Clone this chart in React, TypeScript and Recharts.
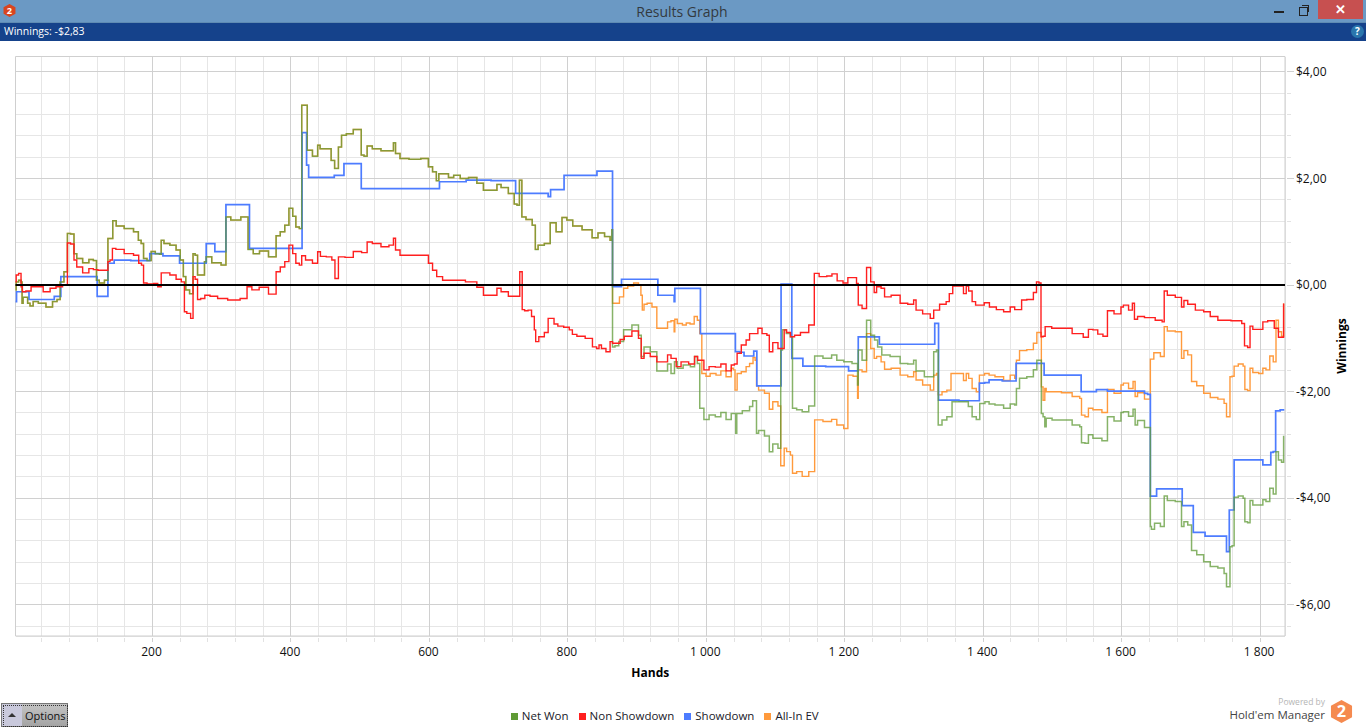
import { LineChart, Line, CartesianGrid, XAxis, YAxis, Legend, ReferenceLine, ReferenceArea } from 'recharts'

type Pt = [number, number]

// until hand 864 Net Won and All-In EV are the same line
const sharedRun: Pt[] = [
  [2,-.09],[4,.06],[9,.09],[11,.06],[12,-.34],[14,-.23],[18,-.23],[21,-.34],[25,-.39],[30,-.31],[40,-.34],[52,-.41],[59,-.31],[65,-.27],[68,.06],[76,.25],[78,.97],[85,.96],[88,.59],[93,.5],
  [105,.42],[111,.48],[118,.46],[120,.09],[126,.04],[135,.09],[136,.875],[141,.875],[144,1.21],[151,1.11],[167,1.06],[178,1.0],[181,.84],[186,.78],[188,.5],[196,.46],[200,.63],[208,.59],[212,.58],[213,.84],
  [220,.78],[230,.75],[238,.66],[242,.47],[247,.16],[249,-.09],[258,-.16],[259,.59],[264,.56],[266,.19],[273,.19],[277,.44],[278,.53],[293,.42],[305,.375],[307,1.28],[319,1.22],[336,1.28],[340,.67],[351,.59],
  [358,.64],[377,.53],[380,.925],[389,1.0],[393,1.125],[401,1.44],[404,1.29],[410,1.09],[414,1.06],[417,3.375],[422,3.375],[425,2.53],[437,2.42],[440,2.625],[444,2.56],[456,2.56],[460,2.34],[466,2.19],[471,2.59],[475,2.81],
  [485,2.84],[495,2.92],[501,2.92],[502,2.44],[509,2.42],[511,2.61],[524,2.56],[536,2.52],[547,2.52],[549,2.67],[553,2.47],[562,2.375],[579,2.36],[596,2.375],[601,2.22],[608,2.125],[612,1.96],[615,2.09],[625,2.09],[630,2.02],
  [640,2.06],[649,2.0],[664,2.02],[673,1.91],[683,1.78],[695,1.78],[700,1.89],[707,1.83],[721,1.72],[724,1.52],[729,1.5],[731,1.97],[733,1.97],[734,1.28],[745,1.23],[752,1.125],[754,.67],[760,.75],[772,.78],[777,1.17],
  [789,1.0],[794,1.27],[803,1.22],[811,1.11],[830,1.04],[840,.89],[847,.98],[859,.91],[863,.84],[864,1.04],
]

const netWonTail: Pt[] = [
  [865,-1.16],[871,-1.14],[876,-1.06],[885,-.84],[900,-.75],[904,-.94],[908,-1.34],[912,-1.16],[926,-1.25],[931,-1.61],[943,-1.61],[945,-1.48],[953,-1.66],[955,-1.44],[961,-1.56],[972,-1.5],[982,-1.53],[984,-1.34],[990,-1.47],[991,-2.31],
  [1002,-2.52],[1006,-2.44],[1020,-2.47],[1022,-2.39],[1035,-2.52],[1037,-2.41],[1042,-2.41],[1043,-2.78],[1045,-2.41],[1059,-2.36],[1066,-2.28],[1068,-2.17],[1072,-2.17],[1073,-2.78],[1078,-2.73],[1090,-2.83],[1092,-3.125],[1100,-2.98],[1107,-3.06],[1108,-1.22],
  [1112,-.84],[1119,-.91],[1124,-.97],[1125,-2.31],[1136,-2.34],[1141,-2.375],[1155,-2.27],[1158,-1.33],[1179,-1.375],[1183,-1.31],[1194,-1.41],[1203,-1.44],[1218,-1.47],[1219,-1.875],[1220,-1.22],[1230,-1.41],[1233,-.66],[1242,-.94],[1244,-1.03],[1251,-1.16],
  [1256,-1.31],[1275,-1.34],[1285,-1.47],[1297,-1.48],[1302,-1.41],[1304,-1.61],[1326,-1.72],[1331,-1.25],[1334,-1.22],[1336,-2.625],[1345,-2.53],[1350,-2.47],[1360,-2.19],[1369,-2.19],[1376,-2.19],[1381,-2.28],[1387,-2.47],[1393,-2.52],[1397,-2.22],[1408,-2.19],
  [1409,-2.23],[1425,-2.25],[1434,-2.31],[1444,-2.23],[1447,-2.25],[1449,-1.94],[1456,-1.75],[1470,-1.72],[1475,-1.59],[1480,-1.41],[1483,-1.41],[1485,-2.41],[1488,-2.47],[1490,-2.66],[1492,-2.5],[1507,-2.53],[1519,-2.53],[1538,-2.625],[1541,-2.66],[1543,-2.96],
  [1551,-2.97],[1553,-2.81],[1564,-2.875],[1579,-2.92],[1580,-2.47],[1598,-2.55],[1600,-2.39],[1605,-2.375],[1615,-2.46],[1618,-2.33],[1621,-2.625],[1625,-2.54],[1641,-2.67],[1642,-4.53],[1644,-4.58],[1651,-4.47],[1661,-4.53],[1662,-3.96],[1670,-4.04],[1685,-4.06],
  [1688,-4.53],[1692,-4.44],[1699,-4.5],[1703,-4.98],[1714,-5.06],[1723,-5.19],[1733,-5.28],[1745,-5.31],[1751,-5.41],[1752,-5.66],[1756,-5.66],[1757,-4.91],[1762,-4.89],[1763,-3.98],[1774,-3.96],[1777,-4.0],[1779,-4.44],[1785,-4.46],[1786,-4.04],[1793,-4.125],
  [1803,-4.125],[1805,-4.03],[1812,-4.06],[1816,-3.81],[1822,-3.92],[1824,-3.125],[1829,-3.28],[1833,-3.325],[1835,-2.84],
]

const allInTail: Pt[] = [
  [865,-.34],[871,-.34],[878,-.22],[883,-.06],[890,-.02],[900,.04],[904,0],[907,-.19],[908,-.47],[912,-.36],[917,-.34],[926,-.41],[931,-.81],[943,-.81],[945,-.69],[953,-.67],[954,-.875],[955,-.64],[961,-.72],[970,-.75],
  [972,-.71],[981,-.73],[984,-.59],[990,-.66],[991,-.91],[996,-1.66],[1003,-1.71],[1008,-1.66],[1020,-1.69],[1022,-1.61],[1035,-1.72],[1037,-1.56],[1041,-1.59],[1042,-1.97],[1044,-1.97],[1045,-1.66],[1056,-1.625],[1059,-1.53],[1066,-1.47],[1069,-1.36],
  [1072,-1.41],[1073,-1.89],[1078,-1.97],[1090,-2.03],[1092,-2.33],[1100,-2.19],[1107,-2.27],[1108,-3.39],[1112,-3.39],[1113,-3.06],[1119,-3.125],[1124,-3.19],[1125,-3.53],[1136,-3.5],[1141,-3.59],[1155,-3.5],[1158,-2.53],[1179,-2.56],[1183,-2.52],[1194,-2.625],
  [1203,-2.69],[1206,-1.69],[1218,-1.71],[1219,-2.125],[1220,-1.59],[1230,-1.625],[1233,-.91],[1242,-1.19],[1243,-1.375],[1249,-1.34],[1256,-1.44],[1259,-1.58],[1275,-1.56],[1285,-1.69],[1297,-1.72],[1302,-1.625],[1304,-1.78],[1321,-1.875],[1326,-1.97],[1331,-1.69],
  [1334,-1.66],[1336,-2.06],[1345,-2.0],[1350,-1.97],[1357,-1.66],[1369,-1.66],[1374,-1.79],[1377,-1.66],[1381,-1.75],[1387,-1.94],[1393,-2.0],[1396,-1.69],[1408,-1.66],[1409,-1.69],[1425,-1.72],[1434,-1.79],[1444,-1.69],[1447,-1.75],[1449,-1.41],[1456,-1.23],
  [1470,-1.21],[1475,-1.09],[1480,-.89],[1483,-.89],[1485,-1.91],[1488,-2.16],[1490,-1.94],[1492,-2.0],[1507,-2.0],[1519,-2.02],[1538,-2.09],[1541,-2.125],[1543,-2.44],[1551,-2.47],[1553,-2.31],[1564,-2.34],[1579,-2.39],[1580,-1.96],[1598,-2.03],[1600,-1.875],
  [1605,-1.84],[1615,-1.94],[1618,-1.81],[1621,-2.09],[1625,-2.02],[1641,-2.14],[1642,-1.39],[1651,-1.27],[1661,-1.34],[1662,-.78],[1670,-.86],[1685,-.875],[1688,-1.375],[1692,-1.23],[1699,-1.31],[1703,-1.81],[1714,-1.89],[1723,-2.03],[1733,-2.11],[1745,-2.14],
  [1751,-2.22],[1752,-2.47],[1756,-2.47],[1757,-1.72],[1762,-1.71],[1763,-1.52],[1774,-1.48],[1777,-1.52],[1779,-1.96],[1785,-1.98],[1786,-1.56],[1793,-1.64],[1803,-1.66],[1805,-1.56],[1812,-1.59],[1816,-1.33],[1822,-1.44],[1824,-.66],[1829,-.875],[1833,-.96],
  [1835,-.36],
]

const nonShowdownRows: Pt[] = [
  [2,.06],[4,.19],[9,.22],[11,-.03],[13,-.125],[21,-.11],[28,-.03],[37,-.03],[47,-.125],[57,-.06],[64,-.03],[76,0],[78,.79],[85,.77],[88,.47],[93,.34],[105,.23],[111,.31],[118,.29],[124,.28],
  [135,.28],[136,.44],[141,.47],[143,.69],[151,.67],[167,.59],[178,.56],[182,.41],[186,.375],[188,.04],[196,.02],[207,.03],[208,-.03],[212,-.03],[213,.23],[220,.23],[230,.19],[238,.11],[245,.06],[247,-.5],
  [252,-.53],[258,-.625],[259,.16],[264,.11],[266,-.27],[273,-.25],[278,-.19],[288,-.21],[300,-.25],[317,-.28],[336,-.25],[337,-.03],[350,-.09],[358,-.04],[377,-.17],[380,.25],[389,.34],[393,.44],[401,.75],[404,.59],
  [410,.41],[414,.375],[417,.55],[425,.47],[437,.41],[440,.625],[445,.54],[457,.53],[461,.47],[466,.125],[471,.53],[485,.52],[495,.63],[509,.61],[511,.81],[524,.78],[536,.72],[547,.75],[549,.88],[553,.66],
  [562,.56],[579,.56],[596,.56],[601,.41],[608,.28],[613,.16],[625,.09],[640,.09],[664,.06],[673,-.04],[683,-.19],[695,-.19],[700,-.06],[707,-.125],[721,-.21],[730,-.21],[731,.25],[733,.25],[735,-.46],[740,-.48],
  [745,-.47],[750,-.59],[753,-.84],[754,-1.06],[762,-.97],[770,-.89],[773,-.625],[778,-.625],[782,-.73],[789,-.77],[799,-.79],[805,-.84],[808,-.925],[818,-.96],[832,-1.0],[839,-1.16],[844,-1.19],[846,-1.125],[851,-1.19],[859,-1.25],
  [863,-1.06],[866,-1.09],[873,-1.09],[878,-1.02],[885,-.96],[900,-.86],[904,-1.0],[908,-1.375],[912,-1.28],[926,-1.34],[931,-1.44],[943,-1.44],[945,-1.31],[953,-1.375],[960,-1.53],[967,-1.44],[982,-1.48],[984,-1.34],[991,-1.41],[1002,-1.59],
  [1006,-1.53],[1020,-1.54],[1022,-1.48],[1035,-1.61],[1037,-1.5],[1044,-1.48],[1045,-1.28],[1056,-1.125],[1059,-1.03],[1066,-.91],[1073,-.91],[1076,-.81],[1085,-.91],[1090,-.94],[1092,-1.25],[1100,-1.08],[1107,-1.19],[1112,-1.19],[1113,-.84],[1119,-.89],
  [1124,-.97],[1131,-.94],[1141,-.89],[1155,-.75],[1157,.22],[1169,.16],[1179,.17],[1184,.21],[1194,.08],[1201,.04],[1208,.14],[1215,.14],[1219,.03],[1220,-.375],[1230,-.44],[1233,.33],[1242,.06],[1243,-.14],[1249,-.03],[1256,-.06],
  [1259,-.22],[1275,-.19],[1285,-.34],[1297,-.36],[1302,-.28],[1304,-.47],[1321,-.54],[1326,-.625],[1331,-.47],[1343,-.36],[1350,-.31],[1352,-.16],[1360,-.02],[1369,-.02],[1374,-.16],[1377,-.02],[1381,-.11],[1387,-.31],[1391,-.375],[1398,-.375],
  [1405,-.33],[1413,-.41],[1425,-.46],[1434,-.5],[1444,-.41],[1447,-.46],[1455,-.46],[1456,-.28],[1470,-.27],[1475,-.14],[1479,.06],[1482,.04],[1485,-.97],[1488,-.96],[1491,-.78],[1507,-.81],[1519,-.81],[1538,-.91],[1551,-.98],[1553,-.83],
  [1564,-.84],[1567,-.92],[1579,-.96],[1580,-.48],[1598,-.54],[1600,-.41],[1605,-.375],[1615,-.47],[1616,-.34],[1621,-.64],[1625,-.59],[1641,-.61],[1656,-.66],[1661,-.69],[1662,-.11],[1670,-.19],[1685,-.23],[1688,-.41],[1692,-.29],[1699,-.36],
  [1714,-.47],[1723,-.5],[1733,-.59],[1745,-.66],[1771,-.67],[1776,-.72],[1779,-1.14],[1785,-1.17],[1786,-.77],[1793,-.83],[1803,-.83],[1805,-.69],[1817,-.67],[1824,-.81],[1829,-.98],[1833,-.98],[1835,-.36],
]

const showdownRows: Pt[] = [
  [2,-.31],[5,-.125],[21,-.125],[22,-.27],[57,-.27],[59,-.21],[66,-.21],[69,.16],[119,.16],[121,-.21],[135,-.21],[136,.41],[143,.41],[146,.47],[191,.46],[201,.59],[214,.59],[216,.55],[237,.55],[241,.41],
  [276,.41],[279,.78],[288,.78],[292,.63],[305,.63],[307,1.51],[339,1.51],[341,.69],[414,.69],[418,2.86],[422,2.86],[423,2.25],[428,2.02],[461,2.02],[464,2.06],[476,2.06],[477,2.28],[501,2.28],[502,1.81],[614,1.81],
  [615,1.94],[652,1.94],[654,1.97],[724,1.96],[725,1.72],[770,1.72],[773,1.66],[777,1.79],[794,1.79],[795,2.06],[841,2.06],[843,2.14],[864,2.14],[865,-.03],[877,-.03],[878,.11],[929,.11],[931,-.19],[953,-.19],[954,-.31],
  [955,-.06],[990,-.06],[993,-.91],[1041,-.91],[1043,-1.25],[1054,-1.26],[1055,-1.33],[1067,-1.33],[1070,-1.24],[1072,-1.24],[1074,-1.89],[1107,-1.89],[1109,.02],[1122,.02],[1125,-1.375],[1138,-1.375],[1141,-1.52],[1204,-1.53],[1207,-1.61],[1219,-1.61],
  [1220,-.97],[1249,-.97],[1251,-1.11],[1329,-1.11],[1331,-.72],[1334,-.72],[1337,-2.16],[1393,-2.17],[1396,-1.84],[1408,-1.83],[1409,-1.78],[1446,-1.8],[1449,-1.47],[1487,-1.47],[1489,-1.69],[1540,-1.69],[1543,-2.0],[1563,-2.0],[1564,-1.96],[1579,-1.96],
  [1580,-1.99],[1632,-1.99],[1634,-2.03],[1641,-2.05],[1642,-3.96],[1650,-3.96],[1651,-3.825],[1687,-3.825],[1688,-4.14],[1703,-4.14],[1704,-4.64],[1720,-4.64],[1721,-4.71],[1751,-4.71],[1752,-5.0],[1755,-5.0],[1756,-4.22],[1762,-4.22],[1763,-3.28],[1803,-3.28],
  [1805,-3.375],[1815,-3.375],[1816,-3.14],[1822,-3.125],[1823,-2.36],[1835,-2.34],
]

const netWonRows: Pt[] = [...sharedRun, ...netWonTail]
const allInRows: Pt[] = [...sharedRun, ...allInTail]

const handMajor = [200, 400, 600, 800, 1000, 1200, 1400, 1600, 1800]
const handTicks = [40, 80, 120, 160, 200, 240, 280, 320, 360, 400, 440, 480, 520, 560, 600, 640, 680, 720, 760, 800, 840, 880, 920, 960, 1000, 1040, 1080, 1120, 1160, 1200, 1240, 1280, 1320, 1360, 1400, 1440, 1480, 1520, 1560, 1600, 1640, 1680, 1720, 1760, 1800]
const moneyMajor = [4, 2, 0, -2, -4, -6]
const moneyTicks = [4, 3.6, 3.2, 2.8, 2.4, 2, 1.6, 1.2, 0.8, 0.4, 0, -0.4, -0.8, -1.2, -1.6, -2, -2.4, -2.8, -3.2, -3.6, -4, -4.4, -4.8, -5.2, -5.6, -6, -6.4]
const legendOrder = ['Net Won', 'Non Showdown', 'Showdown', 'All-In EV']

const handDomain = [2, 1836]
const moneyDomain = [-6.585, 4.29]

const FONT = '"Open Sans", "Noto Sans", sans-serif'

const toRows = (pts: Pt[]) => pts.map(([hand, value]) => ({ hand, value }))
const formatHand = (v: number) => (v >= 1000 ? `${Math.floor(v / 1000)} ${String(v % 1000).padStart(3, '0')}` : String(v))
const formatMoney = (v: number) => `${v < 0 ? '-' : ''}$${Math.abs(v).toFixed(2).replace('.', ',')}`

function HandTick({ x, y, payload }: any) {
  const major = handMajor.includes(payload.value)
  return (
    <g>
      <line x1={x} x2={x} y1={y} y2={y + 4} stroke={major ? '#d0d0d0' : '#e2e2e2'} shapeRendering="crispEdges" />
      {major && <text x={x - 1} y={y + 18} textAnchor="middle" fontSize={12} fontFamily={FONT} fill="#111">{formatHand(payload.value)}</text>}
    </g>
  )
}

function MoneyTick({ x, y, payload }: any) {
  const major = moneyMajor.includes(payload.value)
  return (
    <g>
      <line x1={x} x2={x + (major ? 7 : 4)} y1={y} y2={y} stroke={major ? '#d0d0d0' : '#e2e2e2'} shapeRendering="crispEdges" />
      {major && <text x={x + 9} y={y + 4} textAnchor="start" fontSize={12} fontFamily={FONT} fill="#111">{formatMoney(payload.value)}</text>}
    </g>
  )
}

function WinningsLabel({ viewBox }: any) {
  const cx = viewBox.x + 56
  const cy = viewBox.y + 289.5
  return (
    <text x={cx} y={cy} transform={`rotate(-90 ${cx} ${cy})`} textAnchor="middle" dominantBaseline="central" fontSize={12} fontWeight={700} fontFamily={FONT} fill="#000">Winnings</text>
  )
}

function Hexagon({ x, y, size, color }: { x: number; y: number; size: number; color: string }) {
  return (
    <svg style={{ position: 'absolute', left: x, top: y }} width={size} height={size} viewBox="0 0 24 24">
      <polygon points="12,0 23,6 23,18 12,24 1,18 1,6" fill={color} />
      <text x="12" y="18" textAnchor="middle" fontSize="17" fontWeight="700" fontFamily={FONT} fill="#fff">2</text>
    </svg>
  )
}

function WindowChrome() {
  return (
    <>
      <div style={{ position: 'absolute', left: 0, top: 0, width: 1366, height: 23, background: '#6b99c4', borderBottom: '1px solid #5f8bb3', boxSizing: 'border-box' }} />
      <div style={{ position: 'absolute', left: 0, top: 2, width: 1364, textAlign: 'center', fontSize: 14, color: '#33393f', fontFamily: FONT }}>Results Graph</div>
      <Hexagon x={3} y={4} size={13} color="#d9451f" />
      <div style={{ position: 'absolute', left: 1274, top: 11, width: 10, height: 2, background: '#222' }} />
      <div style={{ position: 'absolute', left: 1299, top: 7, width: 7, height: 7, border: '1px solid #222' }} />
      <div style={{ position: 'absolute', left: 1302, top: 5, width: 6, height: 6, borderTop: '1px solid #222', borderRight: '1px solid #222' }} />
      <div style={{ position: 'absolute', left: 1318, top: 0, width: 45, height: 19, background: '#c75050', color: '#fff', textAlign: 'center', fontSize: 13, lineHeight: '19px', fontWeight: 700, fontFamily: FONT }}>✕</div>
      <div style={{ position: 'absolute', left: 0, top: 23, width: 1366, height: 18, background: '#15428b' }} />
      <div style={{ position: 'absolute', left: 4, top: 24, fontSize: 10.5, color: '#fff', fontFamily: FONT }}>Winnings: -$2,83</div>
      <div style={{ position: 'absolute', left: 1351, top: 25, width: 13, height: 13, borderRadius: 7, background: '#2a76ad', color: '#fff', textAlign: 'center', fontSize: 10, lineHeight: '13px', fontWeight: 700, fontFamily: FONT }}>?</div>
      <div style={{ position: 'absolute', left: 1, top: 703, width: 67, height: 24, boxSizing: 'border-box', border: '1px solid #777', background: 'linear-gradient(#c4c4c4, #a4a4a4)' }}>
        <div style={{ position: 'absolute', left: 0, top: 0, width: 20, height: 22, background: '#c9c9dc' }} />
        <div style={{ position: 'absolute', left: 1, top: 1, width: 63, height: 20, border: '1px dotted #333' }} />
        <div style={{ position: 'absolute', left: 6, top: 9, width: 0, height: 0, borderLeft: '4px solid transparent', borderRight: '4px solid transparent', borderBottom: '4px solid #333' }} />
        <div style={{ position: 'absolute', left: 23, top: 4, fontSize: 11, color: '#111', fontFamily: FONT }}>Options</div>
      </div>
      <div style={{ position: 'absolute', right: 41, top: 697, fontSize: 8.5, lineHeight: '10px', color: '#b5b5b5', fontFamily: FONT }}>Powered by</div>
      <div style={{ position: 'absolute', right: 41, top: 708, fontSize: 11.5, lineHeight: '14px', color: '#444', fontFamily: FONT }}>Hold'em Manager</div>
      <Hexagon x={1330} y={700} size={23} color="#f58a4f" />
    </>
  )
}

export default function App() {
  return (
    <div style={{ position: 'fixed', left: 0, top: 0, width: 1366, height: 728, background: '#fff', overflow: 'hidden' }}>
      <div style={{ position: 'absolute', left: 0, top: 0 }}>
        <LineChart width={1366} height={728} margin={{ top: 56.5, right: 0, bottom: 0, left: 15.5 }}>
          <CartesianGrid stroke="#e6e6e6" shapeRendering="crispEdges" />
          <CartesianGrid stroke="#d0d0d0" shapeRendering="crispEdges" horizontalValues={moneyMajor} verticalValues={handMajor} />
          <ReferenceArea x1={handDomain[0]} x2={handDomain[1]} y1={moneyDomain[0]} y2={moneyDomain[1]} fill="none" stroke="#cfcfcf" />
          <XAxis
            dataKey="hand"
            type="number"
            domain={handDomain}
            ticks={handTicks}
            interval={0}
            height={68}
            axisLine={false}
            tickLine={false}
            tickSize={0}
            tick={HandTick}
            label={{ value: 'Hands', position: 'insideTop', offset: 32, fontSize: 12, fontWeight: 700, fontFamily: FONT, fill: '#000' }}
          />
          <YAxis
            type="number"
            orientation="right"
            domain={moneyDomain}
            ticks={moneyTicks}
            interval={0}
            width={81}
            axisLine={false}
            tickLine={false}
            tickSize={0}
            tick={MoneyTick}
            label={<WinningsLabel />}
          />
          <Legend
            verticalAlign="bottom"
            height={24}
            iconType="square"
            iconSize={7}
            wrapperStyle={{ left: -5.5, bottom: -2 }}
            itemSorter={(item: any) => legendOrder.indexOf(item.value)}
            formatter={(value: string) => <span style={{ color: '#1a1a2a', fontSize: 11.5, fontFamily: FONT }}>{value}</span>}
          />
          <Line type="step" data={toRows(allInRows)} dataKey="value" name="All-In EV" stroke="#ff9a3c" strokeWidth={1.4} dot={false} legendType="square" isAnimationActive={false} />
          <Line type="step" data={toRows(showdownRows)} dataKey="value" name="Showdown" stroke="#4d7cff" strokeWidth={1.7} dot={false} legendType="square" isAnimationActive={false} />
          <Line type="step" data={toRows(netWonRows)} dataKey="value" name="Net Won" stroke="#5f9a35" strokeOpacity={0.75} strokeWidth={1.5} dot={false} legendType="square" isAnimationActive={false} />
          <Line type="step" data={toRows(nonShowdownRows)} dataKey="value" name="Non Showdown" stroke="#ff1f1f" strokeWidth={1.4} dot={false} legendType="square" isAnimationActive={false} />
          <ReferenceLine y={0} stroke="#000" strokeWidth={2} />
        </LineChart>
      </div>
      <WindowChrome />
    </div>
  )
}
